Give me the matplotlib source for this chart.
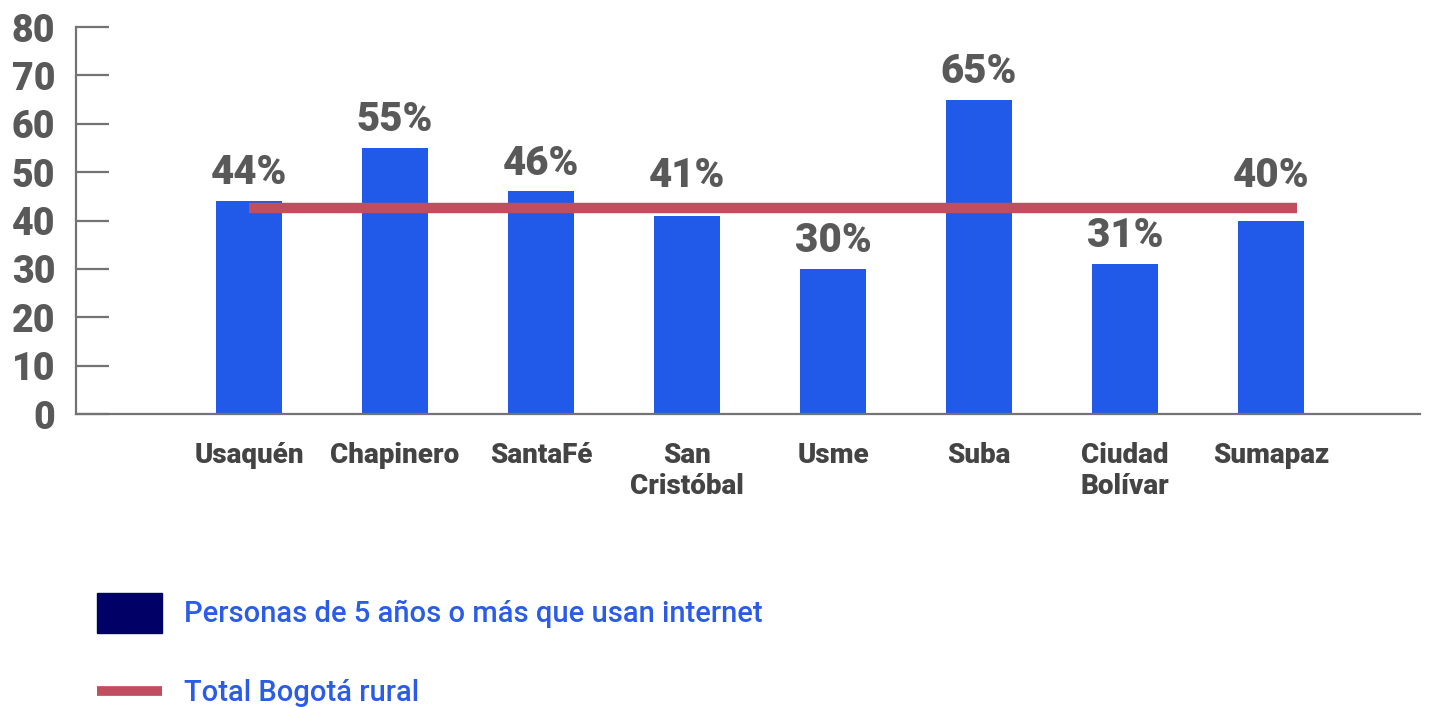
import matplotlib
matplotlib.use('Agg')
import matplotlib.pyplot as plt
import numpy as np

# ─── Data ─────────────────────────────────────────────────────────────────────
localidades = ['Usaquén', 'Chapinero', 'SantaFé', 'San\nCristóbal', 'Usme',
               'Suba', 'Ciudad\nBolívar', 'Sumapaz']
uso_internet = [44, 55, 46, 41, 30, 65, 31, 40]
total_rural = 42.5
y_ticks = [0, 10, 20, 30, 40, 50, 60, 70, 80]

# ─── Colours ──────────────────────────────────────────────────────────────────
BAR_BLUE = "#215ae9"
LINE_RED = "#c04e5f"
NAVY = "#000066"
AXIS_GRAY = "#737373"
LABEL_GRAY = "#595959"
XLABEL_GRAY = "#444444"
LEGEND_BLUE = "#2a5ce8"

plt.rcParams['font.family'] = ['Roboto', 'DejaVu Sans']

fig = plt.figure(figsize=(14.35, 7.07), dpi=100)
ax = fig.add_axes([0.053, 0.4144, 0.9365, 0.5474])

x = np.arange(len(localidades))
bars = ax.bar(x, uso_internet, width=0.45, color=BAR_BLUE, zorder=2)

# reference line across the categories
ax.plot([x[0], x[-1] + 0.18], [total_rural, total_rural], color=LINE_RED,
        lw=7.5, solid_capstyle='butt', zorder=3)

for b, v in zip(bars, uso_internet):
    # labels of bars just under the line are lifted so they sit above it
    anchor = max(v, total_rural + 1.0) if v > total_rural - 4 else v
    ax.annotate(f'{v}%', (b.get_x() + b.get_width() / 2, anchor), xytext=(0, 12),
                textcoords='offset points', ha='center', va='baseline',
                fontsize=29, fontweight='heavy', color=LABEL_GRAY, zorder=4)

ax.set_xlim(-1.185, 8.02)
ax.set_ylim(0, 80)
ax.set_yticks(y_ticks)
ax.set_xticks(x)
ax.set_xticklabels(localidades, fontsize=20, fontweight='heavy', color=XLABEL_GRAY,
                   linespacing=1.2, va='top')
ax.tick_params(axis='x', length=0, pad=20)
ax.tick_params(axis='y', direction='in', length=24, width=1.6, color=AXIS_GRAY,
               labelsize=27, labelcolor=LABEL_GRAY, pad=15)
for lbl in ax.get_yticklabels():
    lbl.set_fontweight('heavy')
ax.yaxis.get_major_ticks()[0].tick1line.set_color('black')

for side in ['top', 'right']:
    ax.spines[side].set_visible(False)
for side in ['left', 'bottom']:
    ax.spines[side].set_color(AXIS_GRAY)
    ax.spines[side].set_linewidth(1.6)

# ─── Legend (manual, stacked at bottom left) ────────────────────────────────
fig.patches.append(plt.Rectangle((97 / 1435, 1 - 633 / 707), 65 / 1435, 40 / 707,
                                 transform=fig.transFigure, color=NAVY))
fig.text(184 / 1435, 1 - 614 / 707, 'Personas de 5 años o más que usan internet',
         fontsize=21, fontweight='medium', color=LEGEND_BLUE, va='center', ha='left')
fig.lines.append(plt.Line2D([97 / 1435, 162 / 1435], [1 - 691 / 707, 1 - 691 / 707],
                            transform=fig.transFigure, color=LINE_RED, lw=7,
                            solid_capstyle='butt'))
fig.text(184 / 1435, 1 - 693 / 707, 'Total Bogotá rural',
         fontsize=21, fontweight='medium', color=LEGEND_BLUE, va='center', ha='left')

fig.savefig('out.png', dpi=100, facecolor='white')
